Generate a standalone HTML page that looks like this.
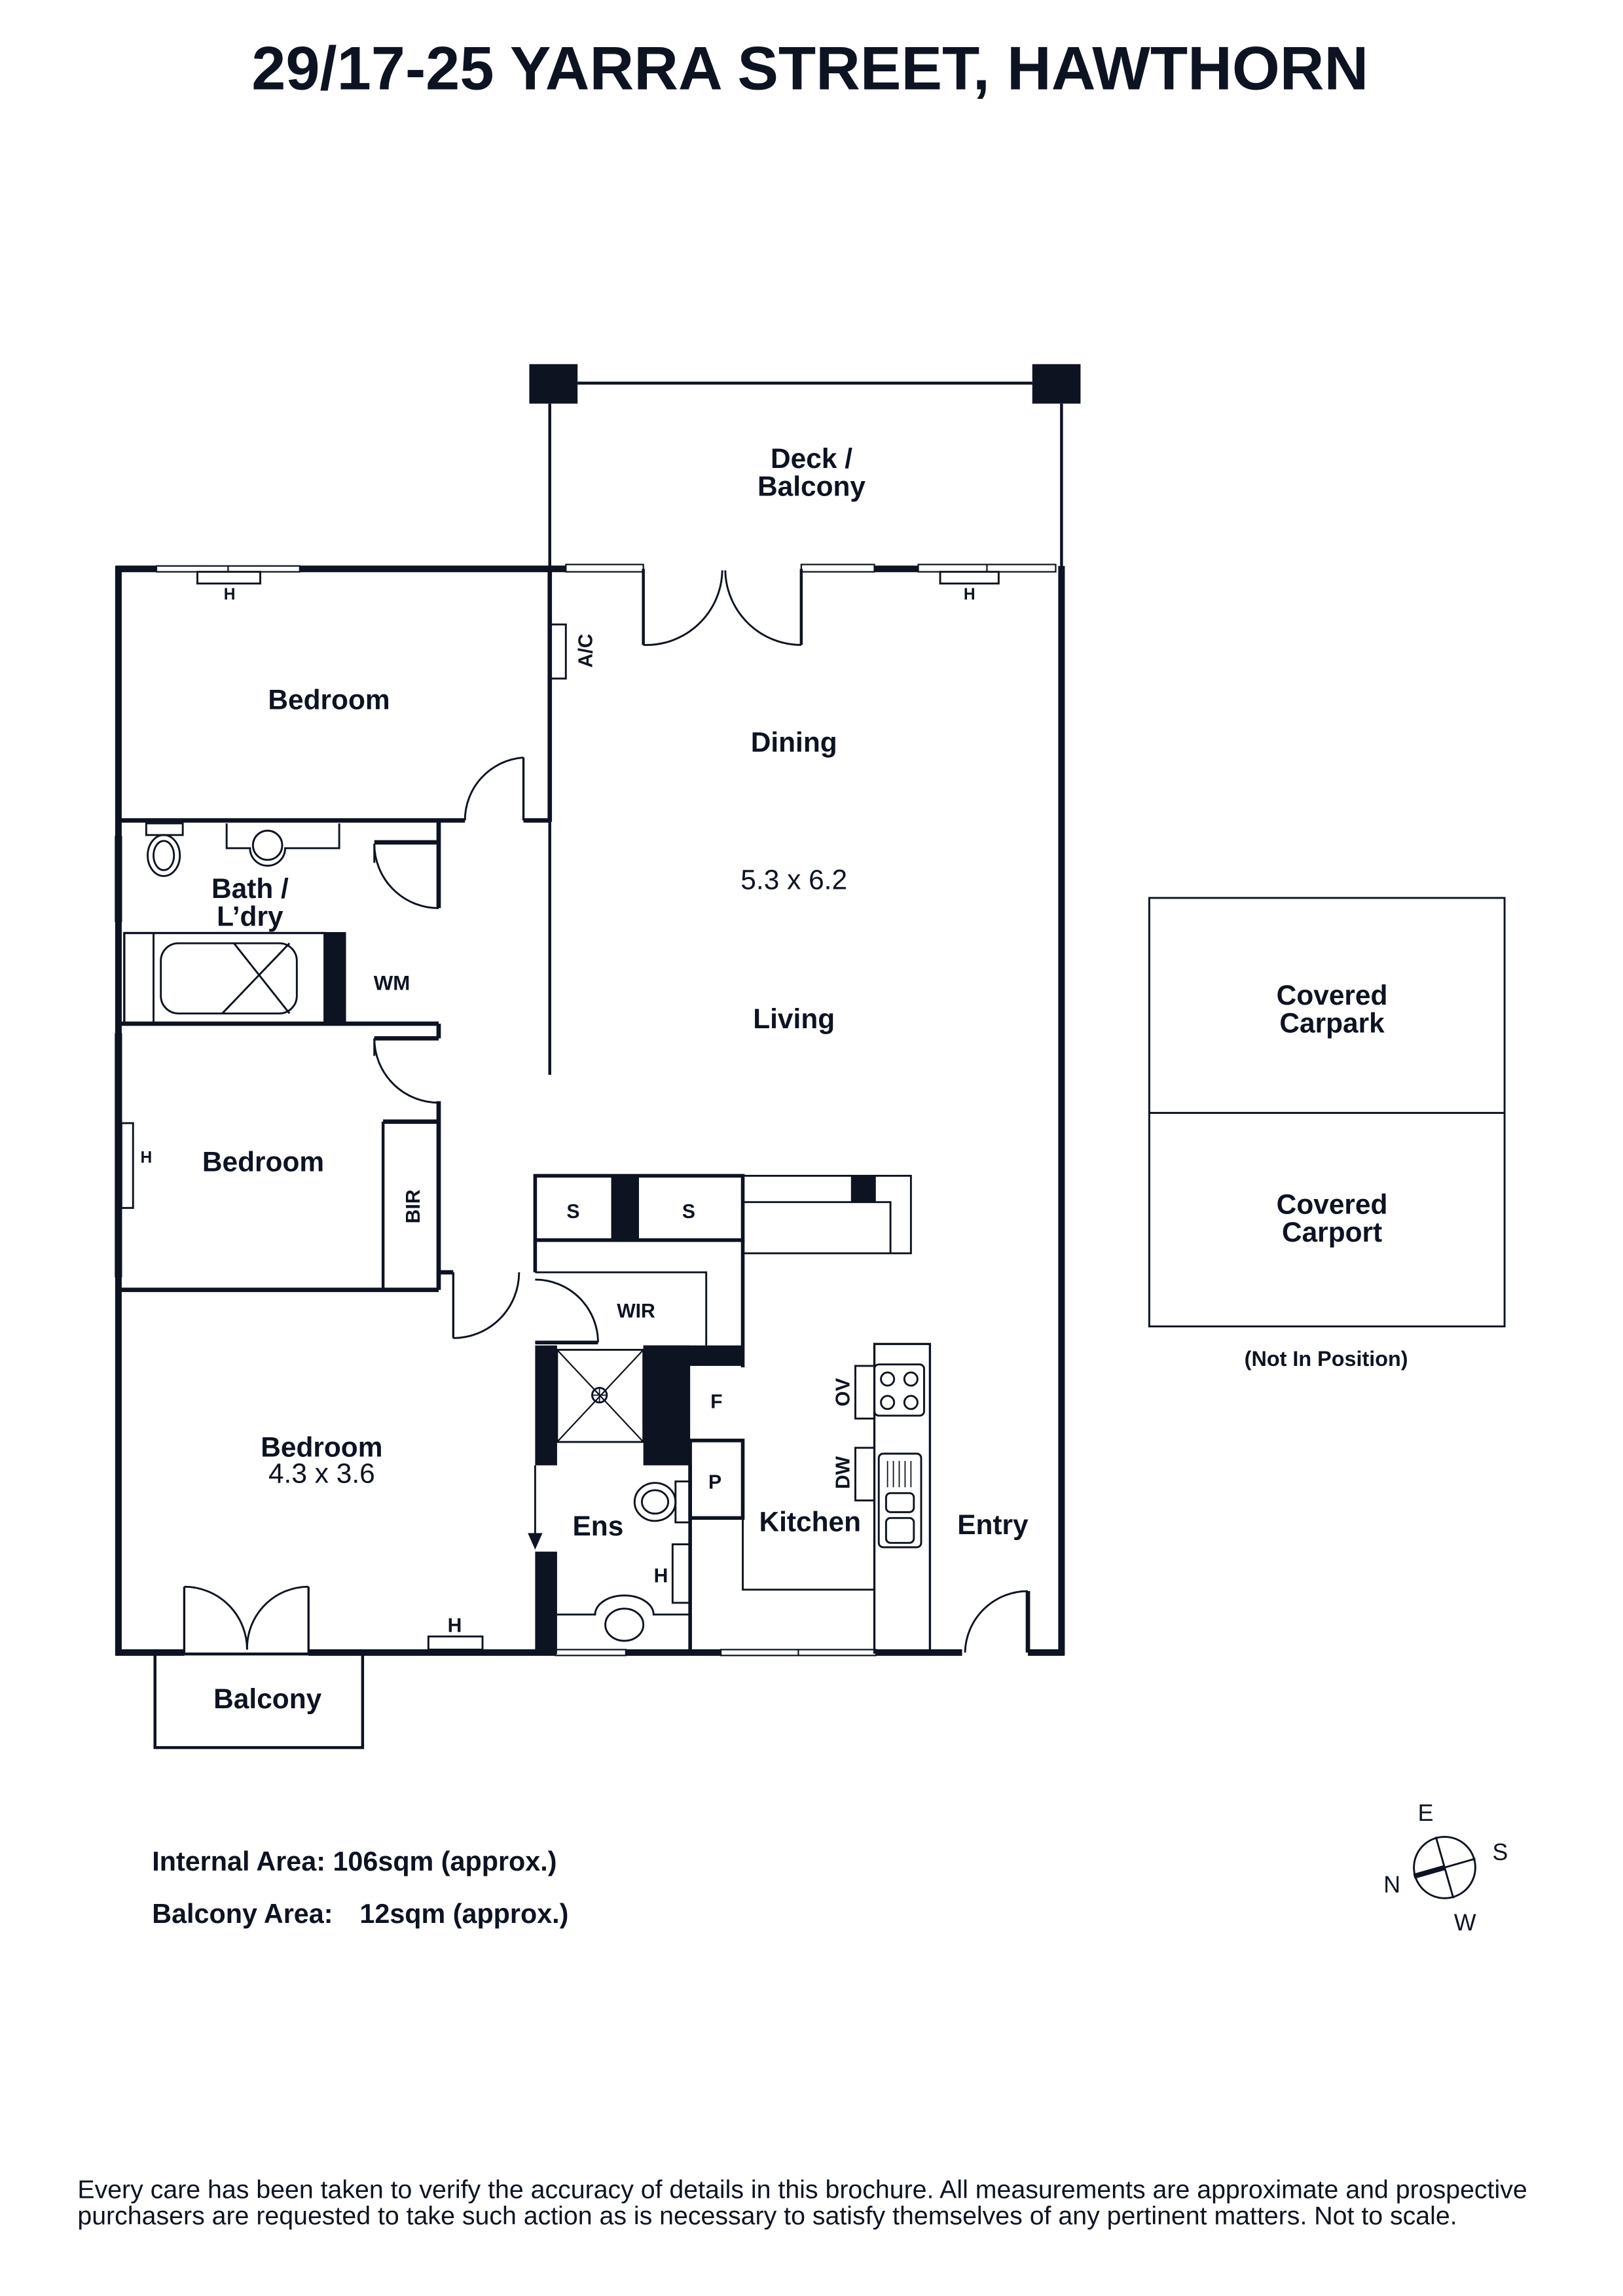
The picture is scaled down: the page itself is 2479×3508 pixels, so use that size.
<!DOCTYPE html>
<html><head><meta charset="utf-8"><style>
html,body{margin:0;padding:0;background:#fff}
svg{display:block}
text{font-family:"Liberation Sans",sans-serif;fill:#0d1321}
.l{font-size:19px;font-weight:bold;text-anchor:middle}
.r{font-size:19px;text-anchor:middle}
.s{font-size:13.5px;font-weight:bold;text-anchor:middle}
</style></head><body>
<svg width="2479" height="3508" viewBox="0 0 1110 1570" preserveAspectRatio="none" xmlns="http://www.w3.org/2000/svg">
<g stroke="#0d1321" fill="none" stroke-width="1.3">
<text x="554" y="61" style="font-size:42px;font-weight:bold;text-anchor:middle;stroke:none">29/17-25 YARRA STREET, HAWTHORN</text>

<!-- deck -->
<rect x="362" y="249" width="33" height="27" fill="#0d1321" stroke="none"/>
<rect x="706" y="249" width="33" height="27" fill="#0d1321" stroke="none"/>
<line x1="395" y1="262" x2="706" y2="262" stroke-width="2"/>
<line x1="376" y1="276" x2="376" y2="389" stroke-width="2"/>
<line x1="726" y1="276" x2="726" y2="389" stroke-width="2"/>

<!-- outer walls -->
<g stroke-width="4.5">
<line x1="81" y1="387" x2="81" y2="1132"/>
<line x1="726" y1="387" x2="726" y2="1132"/>
<line x1="79" y1="389" x2="107" y2="389"/>
<line x1="205" y1="389" x2="387" y2="389"/>
<line x1="598" y1="389" x2="628" y2="389"/>
<line x1="79" y1="1130" x2="126" y2="1130"/>
<line x1="211" y1="1130" x2="380" y2="1130"/>
<line x1="428" y1="1130" x2="493" y2="1130"/>
<line x1="599" y1="1130" x2="658" y2="1130"/>
<line x1="703" y1="1130" x2="728" y2="1130"/>
</g>
<!-- windows -->
<g stroke-width="1">
<rect x="107" y="387" width="98" height="4"/><line x1="156" y1="387" x2="156" y2="391"/>
<rect x="387" y="386" width="53" height="5"/>
<rect x="548" y="386" width="50" height="5"/>
<rect x="628" y="386" width="94" height="5"/><line x1="675" y1="386" x2="675" y2="391"/>
<rect x="380" y="1128" width="48" height="4"/>
<rect x="493" y="1128" width="106" height="4"/><line x1="546" y1="1128" x2="546" y2="1132"/>
<rect x="79" y="572" width="4" height="58"/>
<rect x="79" y="707" width="4" height="166"/>
</g>
<!-- heaters -->
<rect x="135" y="391" width="43" height="8"/><text x="157" y="410" class="s" style="font-size:11px;stroke:none">H</text>
<rect x="643" y="391" width="40" height="8"/><text x="663" y="410" class="s" style="font-size:11px;stroke:none">H</text>
<rect x="376" y="427" width="11" height="37"/>
<text transform="translate(405,445) rotate(-90)" class="s" style="stroke:none">A/C</text>

<!-- dining doors -->
<line x1="440" y1="389" x2="440" y2="441" stroke-width="2"/>
<line x1="548" y1="389" x2="548" y2="441" stroke-width="2"/>
<path d="M440 441 A52 52 0 0 0 494 390"/>
<path d="M548 441 A52 52 0 0 1 496 390"/>

<!-- interior walls -->
<g stroke-width="3">
<line x1="376" y1="389" x2="376" y2="562"/>
<line x1="81" y1="561" x2="318" y2="561"/>
<line x1="358" y1="561" x2="376" y2="561"/>
<line x1="256" y1="576" x2="300" y2="576"/>
<line x1="300" y1="561" x2="300" y2="621"/>
<line x1="81" y1="700" x2="300" y2="700"/>
<line x1="300" y1="700" x2="300" y2="710"/>
<line x1="256" y1="710" x2="300" y2="710"/>
<line x1="300" y1="753" x2="300" y2="882"/>
<line x1="81" y1="882" x2="300" y2="882"/>
<line x1="262" y1="767" x2="300" y2="767"/>
<line x1="300" y1="870" x2="310" y2="870"/>
</g>
<line x1="376" y1="562" x2="376" y2="735" stroke-width="2"/>
<line x1="358" y1="518" x2="358" y2="561" stroke-width="1.5"/>
<path d="M358 518 A43 43 0 0 0 318 561"/>
<path d="M256 577 A44 44 0 0 0 300 621"/>
<line x1="256" y1="577" x2="256" y2="590"/>
<path d="M256 710 A44 44 0 0 0 300 754"/>
<line x1="256" y1="710" x2="256" y2="722"/>
<line x1="262" y1="767" x2="262" y2="882" stroke-width="2"/>
<text transform="translate(287,825) rotate(-90)" class="s" style="stroke:none">BIR</text>
<line x1="310" y1="870" x2="310" y2="915" stroke-width="1.5"/>
<path d="M310 915 A45 45 0 0 0 355 870"/>

<!-- bath fixtures -->
<rect x="100" y="563" width="25" height="8"/>
<ellipse cx="112" cy="585" rx="11" ry="14"/><ellipse cx="112" cy="585" rx="7" ry="10"/>
<path d="M155 563 V580 H171 A12 12 0 0 0 195 580 H232 V563"/>
<circle cx="183" cy="578" r="10"/>
<rect x="85" y="638" width="137" height="62" stroke-width="1.5"/>
<line x1="105" y1="638" x2="105" y2="700"/>
<rect x="110" y="645" width="93" height="48" rx="12"/>
<line x1="160" y1="645" x2="198" y2="693"/><line x1="198" y1="645" x2="152" y2="693"/>
<rect x="222" y="638" width="14" height="62" fill="#0d1321"/>
<text x="268" y="677" class="s" style="font-size:14px;stroke:none">WM</text>

<!-- storage/WIR -->
<rect x="366" y="804" width="142" height="44" stroke-width="2.5"/>
<rect x="418" y="804" width="19" height="44" fill="#0d1321" stroke="none"/>
<text x="392" y="833" class="s" style="stroke:none">S</text>
<text x="471" y="833" class="s" style="stroke:none">S</text>
<rect x="508" y="804" width="115" height="53"/>
<path d="M508 822 H609 V857"/>
<rect x="582" y="804" width="17" height="18" fill="#0d1321" stroke="none"/>
<line x1="366" y1="848" x2="366" y2="870" stroke-width="2.5"/>
<line x1="508" y1="848" x2="508" y2="935" stroke-width="2.5"/>
<path d="M366 870 H483 V920"/>
<line x1="366" y1="918" x2="409" y2="918" stroke-width="2.5"/>
<path d="M366 875 A43 43 0 0 1 409 918"/>
<text x="435" y="901" class="s" style="stroke:none">WIR</text>

<!-- ensuite -->
<rect x="366" y="920" width="15" height="82" fill="#0d1321" stroke="none"/>
<rect x="440" y="920" width="32" height="82" fill="#0d1321" stroke="none"/>
<rect x="440" y="920" width="68" height="14" fill="#0d1321" stroke="none"/>
<rect x="381" y="923" width="59" height="63"/>
<line x1="381" y1="923" x2="440" y2="986" stroke-width="1"/><line x1="440" y1="923" x2="381" y2="986" stroke-width="1"/>
<circle cx="410" cy="954" r="5"/><line x1="405" y1="954" x2="415" y2="954" stroke-width="0.8"/><line x1="410" y1="949" x2="410" y2="959" stroke-width="0.8"/>
<line x1="366" y1="1002" x2="366" y2="1052"/>
<path d="M362 1049 L366 1058 L370 1049 Z" fill="#0d1321"/>
<rect x="366" y="1061" width="15" height="70" fill="#0d1321" stroke="none"/>
<line x1="472" y1="1002" x2="472" y2="1130" stroke-width="2.5"/>
<rect x="472" y="985" width="36" height="53" stroke-width="2.5"/>
<text x="490" y="963" class="s" style="stroke:none">F</text>
<text x="489" y="1018" class="s" style="stroke:none">P</text>
<rect x="462" y="1013" width="10" height="28"/>
<ellipse cx="448" cy="1027" rx="14" ry="13"/><ellipse cx="448" cy="1027" rx="9" ry="8"/>
<rect x="460" y="1056" width="12" height="40"/>
<text x="452" y="1082" class="s" style="stroke:none">H</text>
<path d="M381 1104 H407 A20 13 0 0 1 447 1104 H472"/>
<ellipse cx="427" cy="1111" rx="13" ry="11"/>

<!-- kitchen -->
<path d="M508 1038 V1087 H598 V920"/>
<rect x="598" y="919" width="38" height="211" stroke-width="1.5"/>
<rect x="598" y="933" width="34" height="35" rx="3"/>
<circle cx="607" cy="943" r="4.5"/><circle cx="623" cy="943" r="4.5"/>
<circle cx="607" cy="959" r="4.5"/><circle cx="623" cy="959" r="4.5"/>
<rect x="585" y="934" width="13" height="36"/>
<text transform="translate(581,952) rotate(-90)" class="s" style="stroke:none">OV</text>
<rect x="585" y="990" width="13" height="36"/>
<text transform="translate(581,1007) rotate(-90)" class="s" style="stroke:none">DW</text>
<rect x="601" y="994" width="29" height="64" rx="3"/>
<g stroke-width="0.8"><line x1="607" y1="999" x2="607" y2="1017"/><line x1="611" y1="999" x2="611" y2="1017"/><line x1="615" y1="999" x2="615" y2="1017"/><line x1="619" y1="999" x2="619" y2="1017"/><line x1="623" y1="999" x2="623" y2="1017"/></g>
<rect x="606" y="1021" width="19" height="13" rx="3"/>
<rect x="606" y="1038" width="19" height="17" rx="3"/>

<!-- entry door -->
<line x1="703" y1="1088" x2="703" y2="1130" stroke-width="3"/>
<path d="M703 1088 A43 43 0 0 0 660 1130"/>

<!-- bedroom 3 doors & balcony -->
<line x1="126" y1="1085" x2="126" y2="1130" stroke-width="1.5"/>
<line x1="211" y1="1085" x2="211" y2="1130" stroke-width="1.5"/>
<path d="M126 1085 A43 43 0 0 1 169 1128"/>
<path d="M211 1085 A42 42 0 0 0 169 1128"/>
<rect x="106" y="1131" width="142" height="64" stroke-width="2"/>
<rect x="293" y="1119" width="37" height="9"/>
<text x="311" y="1116" class="s" style="stroke:none">H</text>
<rect x="83" y="768" width="8" height="58"/>
<text x="100" y="795" class="s" style="font-size:11px;stroke:none">H</text>

<!-- carpark -->
<rect x="786" y="614" width="243" height="293"/>
<line x1="786" y1="761" x2="1029" y2="761"/>

<!-- compass -->
<circle cx="988" cy="1277" r="21"/>
<line x1="982" y1="1256" x2="994" y2="1298"/>
<line x1="967" y1="1283" x2="1009" y2="1271"/>
<line x1="967" y1="1283" x2="988" y2="1277" stroke-width="3.5"/>
</g>

<g>
<text x="555" y="320" class="l">Deck /</text>
<text x="555" y="339" class="l">Balcony</text>
<text x="225" y="485" class="l">Bedroom</text>
<text x="543" y="514" class="l">Dining</text>
<text x="543" y="608" class="r">5.3 x 6.2</text>
<text x="543" y="703" class="l">Living</text>
<text x="171" y="614" class="l">Bath /</text>
<text x="171" y="633" class="l">L’dry</text>
<text x="180" y="801" class="l">Bedroom</text>
<text x="220" y="996" class="l">Bedroom</text>
<text x="220" y="1014" class="r">4.3 x 3.6</text>
<text x="409" y="1050" class="l">Ens</text>
<text x="554" y="1047" class="l">Kitchen</text>
<text x="679" y="1049" class="l">Entry</text>
<text x="183" y="1168" class="l">Balcony</text>
<text x="911" y="687" class="l">Covered</text>
<text x="911" y="706" class="l">Carpark</text>
<text x="911" y="830" class="l">Covered</text>
<text x="911" y="849" class="l">Carport</text>
<text x="907" y="934" class="s" style="font-size:14.5px">(Not In Position)</text>
<text x="104" y="1279" style="font-size:18.5px;font-weight:bold">Internal Area: 106sqm (approx.)</text>
<text x="104" y="1315" style="font-size:18.5px;font-weight:bold">Balcony Area:</text>
<text x="246" y="1315" style="font-size:18.5px;font-weight:bold">12sqm (approx.)</text>
<text x="975" y="1245" style="font-size:16px;text-anchor:middle">E</text>
<text x="1026" y="1272" style="font-size:16px;text-anchor:middle">S</text>
<text x="952" y="1294" style="font-size:16px;text-anchor:middle">N</text>
<text x="1002" y="1320" style="font-size:16px;text-anchor:middle">W</text>
<text x="53" y="1503" style="font-size:17.6px">Every care has been taken to verify the accuracy of details in this brochure. All measurements are approximate and prospective</text>
<text x="53" y="1521" style="font-size:17.6px">purchasers are requested to take such action as is necessary to satisfy themselves of any pertinent matters. Not to scale.</text>
</g>
</svg>
</body></html>
